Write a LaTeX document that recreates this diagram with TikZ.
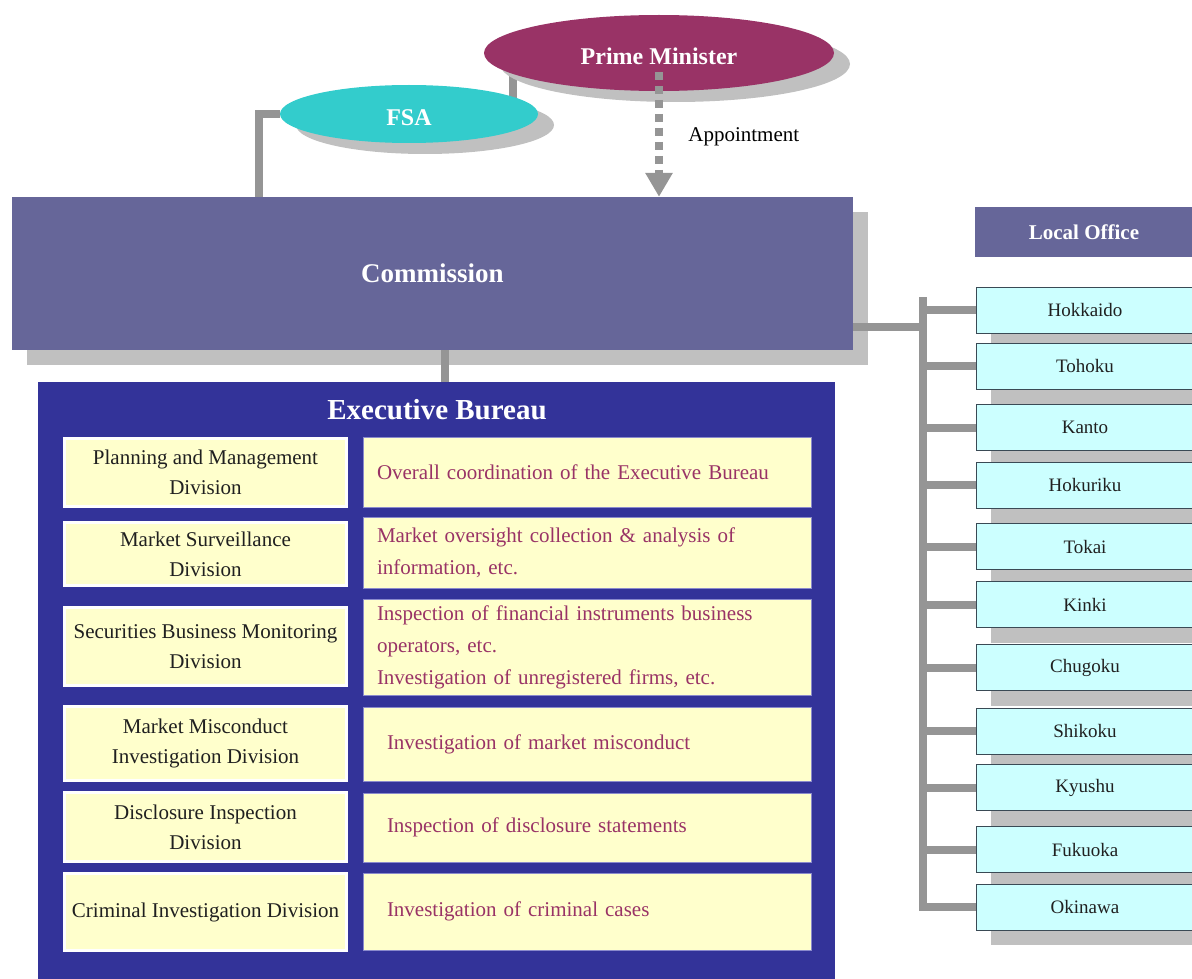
\documentclass[tikz,border=0pt]{standalone}
\usepackage{fontspec}
\setmainfont{Liberation Serif}
\newfontfamily\dutyfont[WordSpace=0.7]{Liberation Serif}
\usetikzlibrary{positioning,shapes.geometric,shadows,arrows.meta}

\definecolor{pmred}{HTML}{993366}
\definecolor{fsacyan}{HTML}{33CCCC}
\definecolor{commblue}{HTML}{666699}
\definecolor{bureaublue}{HTML}{333399}
\definecolor{divyellow}{HTML}{FFFFCC}
\definecolor{officecyan}{HTML}{CCFFFF}
\definecolor{shgray}{HTML}{C0C0C0}
\definecolor{bargray}{HTML}{959595}
\definecolor{darktext}{HTML}{202020}
\definecolor{rowedge}{HTML}{8A8ACC}
\definecolor{officeedge}{HTML}{3A4A55}

\pgfdeclarelayer{background}
\pgfsetlayers{background,main}

\tikzset{
  bar/.style={draw=bargray, line width=8pt},
  appt/.style={draw=bargray, line width=8pt, dash pattern=on 8pt off 6pt,
    -{Triangle[length=24pt,width=26pt]}},
  shadowed/.style={drop shadow={shadow xshift=15pt,shadow yshift=-15pt,fill=shgray,opacity=1}},
  oval/.style={ellipse, text=white, text height=24pt, font=\fontsize{24}{24}\selectfont\bfseries,
    drop shadow={shadow xshift=16pt,shadow yshift=-11pt,fill=shgray,opacity=1}},
  headbox/.style={rectangle, fill=commblue, text=white},
  division/.style={rectangle, fill=divyellow, draw=white, line width=3pt,
    minimum width=282pt, align=center, text=darktext, font=\fontsize{21}{30}\selectfont},
  duty/.style={rectangle, fill=divyellow, draw=rowedge, line width=.6pt,
    minimum width=448pt, align=left, text=pmred, font=\dutyfont\fontsize{21}{32}\selectfont},
  office/.style={rectangle, shadowed, fill=officecyan, draw=officeedge, line width=.8pt,
    minimum width=218pt, minimum height=46pt, text=darktext, font=\fontsize{19}{19}\selectfont},
}

\begin{document}
\begin{tikzpicture}[x=1pt, y=-1pt]
  \useasboundingbox (0,0) rectangle (1192,979);
  \clip (0,0) rectangle (1192,979);

  \coordinate (fsabar) at (259,0);
  \coordinate (pmbar) at (513,0);
  \coordinate (ebar) at (445,0);
  \coordinate (bus) at (923,0);

  \node[headbox, shadowed, minimum width=841pt, minimum height=153pt,
    font=\fontsize{27}{27}\selectfont\bfseries] (comm) at (432.5,273.5) {Commission};
  \node[oval, fill=pmred, minimum width=350pt, minimum height=76pt] (pm) at (659,53) {Prime Minister};
  \node[oval, fill=fsacyan, minimum width=258pt, minimum height=58pt] (fsa) at (409,114) {FSA};

  \begin{pgfonlayer}{background}
    \draw[bar] (pm.center -| pmbar) -- (fsa.center -| pmbar);
    \draw[bar] (fsa.west) -| (comm.north -| fsabar);
  \end{pgfonlayer}

  \draw[appt] ([yshift=-19pt]pm.center) -- (pm.center |- comm.north)
    node[pos=.52, right=22pt, font=\fontsize{21}{21}\selectfont] (apptxt) {Appointment};

  \node[rectangle, fill=bureaublue, minimum width=797pt, minimum height=610pt, anchor=north]
    (bureau) at (436.5,382) {};
  \node[text=white, font=\fontsize{29}{29}\selectfont\bfseries] (ebtitle) at (437,410) {Executive Bureau};
  \draw[bar] (comm.south -| ebar) -- (bureau.north -| ebar);

  \foreach \ly/\lh/\dv/\ry/\rh/\tw/\dt [count=\i] in {
    472.5/71/{Planning and Management\\Division}/472/70/420/{Overall coordination of the Executive Bureau},
    554/66/{Market Surveillance\\Division}/552.5/71/420/{Market oversight collection \& analysis of\\information, etc.},
    646.5/81/{Securities Business Monitoring\\Division}/647/96/420/{Inspection of financial instruments business\\operators, etc.\\Investigation of unregistered firms, etc.},
    743.5/77/{Market Misconduct\\Investigation Division}/744/74/400/{Investigation of market misconduct},
    827/72/{Disclosure Inspection\\Division}/827.5/69/400/{Inspection of disclosure statements},
    912/80/{Criminal Investigation Division}/911.5/77/400/{Investigation of criminal cases}} {
    \node[division, minimum height=\lh*1pt-3pt] (div\i) at (205.5,\ly) {\dv};
    \node[duty, minimum height=\rh*1pt, text width=\tw*1pt] (duty\i) at (587,\ry) {\dt};
  }

  \node[headbox, minimum width=218pt, minimum height=50pt,
    font=\fontsize{21}{21}\selectfont\bfseries] (local) at (1084,232) {Local Office};

  \draw[bar] ([yshift=-53.5pt]comm.east) -- ([yshift=-53.5pt]comm.east -| bus);
  \foreach \name/\y [count=\i] in {Hokkaido/310, Tohoku/366, Kanto/427.5, Hokuriku/485,
    Tokai/546.5, Kinki/604.5, Chugoku/667.5, Shikoku/731, Kyushu/787.5, Fukuoka/849.5, Okinawa/907} {
    \node[office] (off\i) at (1085,\y) {\name};
    \draw[bar] (off\i.west) -- (off\i.west -| bus);
  }
  \draw[bar, line cap=rect] ([yshift=9pt]off1.west -| bus) -- (off11.west -| bus);
\end{tikzpicture}
\end{document}
